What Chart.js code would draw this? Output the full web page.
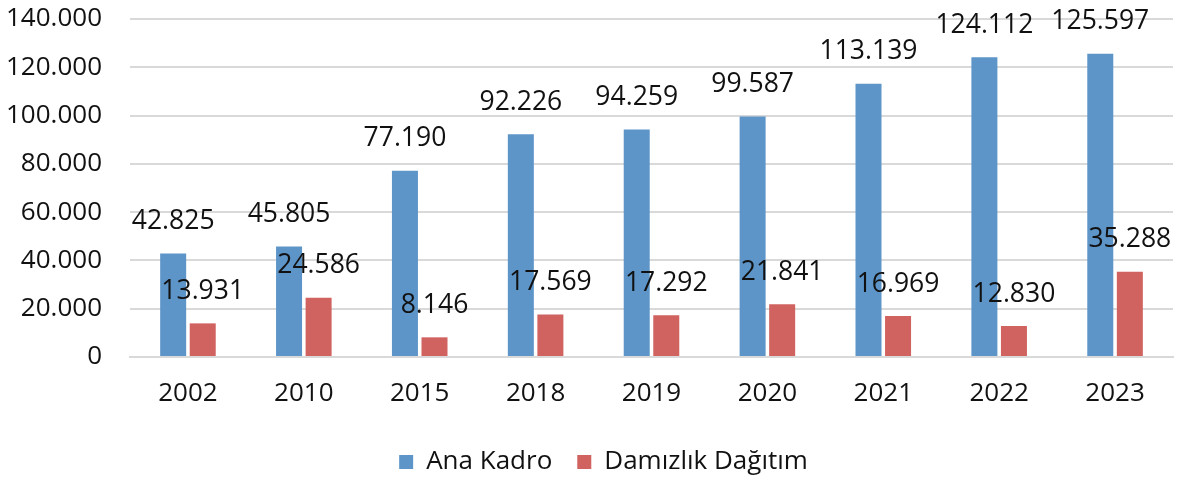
<!DOCTYPE html>
<html lang="tr">
<head>
    <meta charset="UTF-8">
    <title>Ana Kadro ve Damızlık Dağıtım</title>
    <style>
        html, body { margin: 0; padding: 0; background: #fff; }
        .wrap { width: 1181px; height: 478px; position: relative; }
    </style>
    <script src="https://cdn.jsdelivr.net/npm/chart.js"></script>
</head>
<body>
    <div class="wrap"><canvas id="chart"></canvas></div>
    <script>
        // data
        const years = ['2002', '2010', '2015', '2018', '2019', '2020', '2021', '2022', '2023'];
        const anaKadro = [42825, 45805, 77190, 92226, 94259, 99587, 113139, 124112, 125597];
        const damizlik = [13931, 24586, 8146, 17569, 17292, 21841, 16969, 12830, 35288];

        const FONT = "'Open Sans', 'Noto Sans', sans-serif";

        // 12345 -> "12.345"
        function fmt(v) {
            return String(Math.round(v)).replace(/\B(?=(\d{3})+(?!\d))/g, '.');
        }

        // value labels above the bars
        const valueLabels = {
            id: 'valueLabels',
            afterDatasetsDraw(chart) {
                const ctx = chart.ctx;
                ctx.save();
                ctx.font = '26.5px ' + FONT;
                ctx.fillStyle = '#111';
                ctx.textAlign = 'center';
                ctx.textBaseline = 'middle';
                chart.data.datasets.forEach((ds, i) => {
                    chart.getDatasetMeta(i).data.forEach((bar, j) => {
                        ctx.fillText(fmt(ds.data[j]), bar.x, bar.y - 32);
                    });
                });
                ctx.restore();
            }
        };

        // legend in the original sits a little right of centre
        const legendShift = {
            id: 'legendShift',
            afterLayout(chart) {
                if (chart.legend) {
                    chart.legend.left += 17;
                    chart.legend.right += 17;
                }
            }
        };

        new Chart(document.getElementById('chart'), {
            type: 'bar',
            data: {
                labels: years,
                datasets: [{
                    label: 'Ana Kadro',
                    data: anaKadro,
                    backgroundColor: '#5D95C9',
                    categoryPercentage: 0.51,
                    barPercentage: 0.88
                }, {
                    label: 'Damızlık Dağıtım',
                    data: damizlik,
                    backgroundColor: '#D0625F',
                    categoryPercentage: 0.51,
                    barPercentage: 0.88
                }]
            },
            options: {
                responsive: true,
                maintainAspectRatio: false,
                animation: false,
                layout: { padding: { top: 19, right: 8, left: 0, bottom: -7 } },
                plugins: {
                    tooltip: { enabled: false },
                    legend: {
                        position: 'bottom',
                        labels: {
                            color: '#111',
                            font: { family: FONT, size: 26 },
                            boxWidth: 14,
                            boxHeight: 14,
                            padding: 25
                        }
                    }
                },
                scales: {
                    x: {
                        afterFit(scale) { scale.height = 67; },
                        grid: { display: false, drawTicks: false },
                        border: { color: '#d9d9d9', width: 2 },
                        ticks: { color: '#111', font: { family: FONT, size: 26 }, padding: 21 }
                    },
                    y: {
                        min: 0,
                        max: 140000,
                        afterFit(scale) {
                            scale.width = 130;
                            scale.paddingTop = 0;
                            scale.paddingBottom = 0;
                        },
                        grid: { color: '#d9d9d9', lineWidth: 2, drawTicks: false },
                        border: { display: false },
                        ticks: {
                            stepSize: 20000,
                            color: '#111',
                            padding: 28,
                            font: { family: FONT, size: 26 },
                            callback: v => fmt(v)
                        }
                    }
                }
            },
            plugins: [valueLabels, legendShift]
        });
    </script>
</body>
</html>
